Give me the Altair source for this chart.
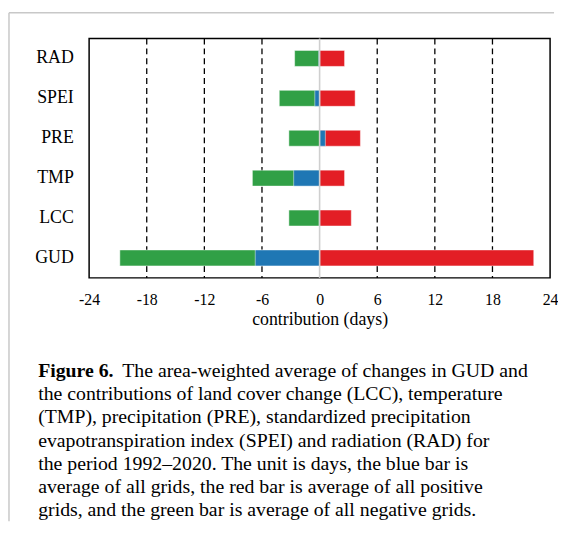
import altair as alt
import pandas as pd

categories = ["RAD", "SPEI", "PRE", "TMP", "LCC", "GUD"]
neg_avg = [-2.6, -4.2, -3.2, -7.0, -3.2, -20.8]   # green: average of negative grids
all_avg = [-0.1, -0.5, 0.6, -2.7, -0.05, -6.7]    # blue: average of all grids
pos_avg = [2.6, 3.7, 4.25, 2.6, 3.3, 22.3]        # red: average of positive grids
x_ticks = [-24, -18, -12, -6, 0, 6, 12, 18, 24]
grid_values = [-18, -12, -6, 6, 12, 18]

caption_bold = "Figure 6."
caption_lines = [
    "The area-weighted average of changes in GUD and",
    "the contributions of land cover change (LCC), temperature",
    "(TMP), precipitation (PRE), standardized precipitation",
    "evapotranspiration index (SPEI) and radiation (RAD) for",
    "the period 1992\u20132020. The unit is days, the blue bar is",
    "average of all grids, the red bar is average of all positive",
    "grids, and the green bar is average of all negative grids.",
]

FONT = "Liberation Serif"
W, H = 466, 242

x_scale = alt.Scale(domain=[-24, 24], nice=False, zero=False)
x_axis = alt.Axis(values=x_ticks, title="contribution (days)", grid=False, ticks=False,
                  tickSize=0, domain=False, labelFont=FONT, labelFontSize=16,
                  labelColor="black", labelPadding=14, titleFont=FONT, titleFontSize=18,
                  titleFontWeight="normal", titleColor="black", titlePadding=3,
                  labelFlush=False,
                  labelExpr="datum.value < 0 ? '-' + abs(datum.value) : '' + datum.value")
y_scale = alt.Scale(domain=categories, paddingInner=0.6, paddingOuter=0.3)
y_axis = alt.Axis(title=None, ticks=False, tickSize=0, domain=False, labelFont=FONT,
                  labelFontSize=18, labelColor="black", labelPadding=16)

def bar_layer(values, color):
    df = pd.DataFrame({"category": categories, "value": values})
    return alt.Chart(df).mark_bar(color=color, stroke="white", strokeWidth=0.8,
                                  strokeOpacity=0.6).encode(
        x=alt.X("value:Q", scale=x_scale, axis=x_axis, stack=None),
        y=alt.Y("category:N", scale=y_scale, axis=y_axis, sort=categories),
    )

grid = alt.Chart(pd.DataFrame({"g": grid_values})).mark_rule(
    color="black", strokeDash=[6, 4], strokeWidth=1.3).encode(
    x=alt.X("g:Q", scale=x_scale, axis=x_axis))

zero = alt.Chart(pd.DataFrame({"z": [0]})).mark_rule(
    color="#cfcfcf", strokeWidth=1.6).encode(
    x=alt.X("z:Q", scale=x_scale, axis=x_axis))

green = bar_layer(neg_avg, "#31a046")
red = bar_layer(pos_avg, "#e31e25")
blue = bar_layer(all_avg, "#1f77b4")

one = alt.Data(values=[{}])
caption_layers = []
cap_x, cap_y0, cap_dy, cap_fs = -51.5, 336, 23.5, 20
caption_layers.append(alt.Chart(one).mark_text(
    align="left", baseline="middle", font=FONT, fontSize=cap_fs, fontWeight="bold",
    color="black").encode(x=alt.value(cap_x), y=alt.value(cap_y0), text=alt.value(caption_bold)))
for i, line in enumerate(caption_lines):
    xx = cap_x + 85 if i == 0 else cap_x
    caption_layers.append(alt.Chart(one).mark_text(
        align="left", baseline="middle", font=FONT, fontSize=cap_fs, color="black").encode(
        x=alt.value(xx), y=alt.value(cap_y0 + i * cap_dy), text=alt.value(line)))

border_left = alt.Chart(one).mark_rule(color="#c8c8c8", strokeWidth=1.5).encode(
    x=alt.value(-81), y=alt.value(-26), y2=alt.value(488))
border_top = alt.Chart(one).mark_rule(color="#c8c8c8", strokeWidth=1.5).encode(
    x=alt.value(-81), x2=alt.value(470), y=alt.value(-26))

chart = alt.layer(grid, green, red, blue, zero, *caption_layers, border_left, border_top).properties(
    width=W, height=H, padding={"left": 0, "top": 1, "right": 0, "bottom": 0}
).configure(
    background="white",
    view=alt.ViewConfig(stroke="black", strokeWidth=1.5),
)

chart.save("out.html", embed_options={"renderer": "svg", "actions": False})
